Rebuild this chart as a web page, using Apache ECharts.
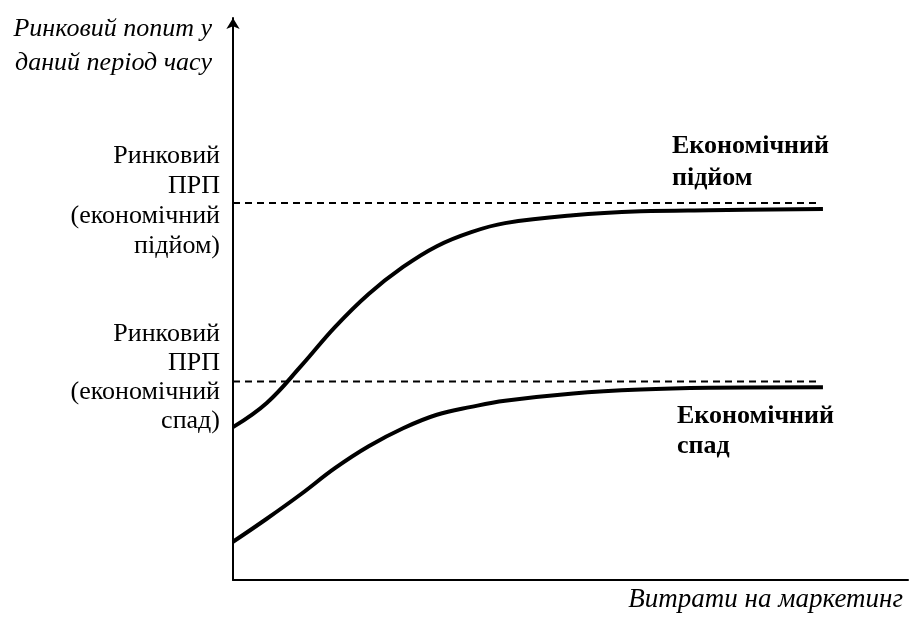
<!DOCTYPE html>
<html>
<head>
<meta charset="utf-8">
<script src="https://cdn.jsdelivr.net/npm/echarts@6/dist/echarts.min.js"></script>
<style>
  html, body { margin: 0; padding: 0; background: #fff; }
  #chart { width: 920px; height: 617px; }
</style>
</head>
<body>
<div id="chart"></div>
<script>
// витрати на маркетинг (умовні одиниці 0..100)
const spendX = [0, 5.0, 10.1, 15.1, 20.1, 25.2, 30.2, 35.3, 40.3, 50.4, 60.4, 70.5, 87.4]
// ринковий попит при економічному підйомі
const boomY = [27.2, 31.5, 38.1, 45.0, 50.9, 55.7, 59.4, 61.9, 63.5, 64.9, 65.6, 65.8, 66.0]
// ринковий попит при економічному спаді
const slumpY = [6.8, 10.9, 15.3, 19.9, 23.8, 27.0, 29.4, 30.8, 31.9, 33.2, 33.9, 34.2, 34.3]

// ринковий ПРП (пунктирні рівні)
const boomLevel = 67.1
const slumpLevel = 35.3
const levelEndX = 86.7

const serif = '"Liberation Serif", "Times New Roman", "DejaVu Serif", serif'

function pairs(xs, ys) {
  return xs.map((x, i) => [x, ys[i]])
}

function label(x, y, text, opts) {
  return {
    type: 'text', x: x, y: y,
    style: Object.assign({
      text: text,
      fontFamily: serif,
      fontSize: 26,
      fill: '#000',
      verticalAlign: 'middle'
    }, opts)
  }
}

const chart = echarts.init(document.getElementById('chart'), null, { renderer: 'canvas' })

chart.setOption({
  animation: false,
  backgroundColor: '#fff',
  grid: { left: 233, right: 12, top: 18, bottom: 37 },
  xAxis: {
    type: 'value', min: 0, max: 100,
    axisLine: { show: true, lineStyle: { color: '#000', width: 2 } },
    axisTick: { show: false },
    axisLabel: { show: false },
    splitLine: { show: false }
  },
  yAxis: {
    type: 'value', min: 0, max: 100,
    axisLine: {
      show: true,
      symbol: ['none', 'arrow'],
      symbolSize: [10, 11],
      lineStyle: { color: '#000', width: 2 }
    },
    axisTick: { show: false },
    axisLabel: { show: false },
    splitLine: { show: false }
  },
  series: [
    {
      type: 'line',
      data: [[0, boomLevel], [levelEndX, boomLevel]],
      symbol: 'none',
      lineStyle: { color: '#000', width: 2, type: [7, 5] }
    },
    {
      type: 'line',
      data: [[0, slumpLevel], [levelEndX, slumpLevel]],
      symbol: 'none',
      lineStyle: { color: '#000', width: 2, type: [7, 5] }
    },
    {
      type: 'line',
      data: pairs(spendX, boomY),
      symbol: 'none',
      smooth: 0.4,
      lineStyle: { color: '#000', width: 4 }
    },
    {
      type: 'line',
      data: pairs(spendX, slumpY),
      symbol: 'none',
      smooth: 0.4,
      lineStyle: { color: '#000', width: 4 }
    }
  ],
  graphic: [
    label(212, 46, 'Ринковий попит у\nданий період часу',
      { fontStyle: 'italic', align: 'right', lineHeight: 34 }),
    label(220, 201.5, 'Ринковий\nПРП\n(економічний\nпідйом)',
      { align: 'right', lineHeight: 30 }),
    label(220, 378, 'Ринковий\nПРП\n(економічний\nспад)',
      { align: 'right', lineHeight: 29 }),
    label(672, 162.5, 'Економічний\nпідйом',
      { fontWeight: 'bold', fontSize: 26, align: 'left', lineHeight: 32 }),
    label(677, 431.5, 'Економічний\nспад',
      { fontWeight: 'bold', fontSize: 26, align: 'left', lineHeight: 30 }),
    label(903, 600, 'Витрати на маркетинг',
      { fontStyle: 'italic', fontSize: 27, align: 'right' })
  ]
})
</script>
</body>
</html>
